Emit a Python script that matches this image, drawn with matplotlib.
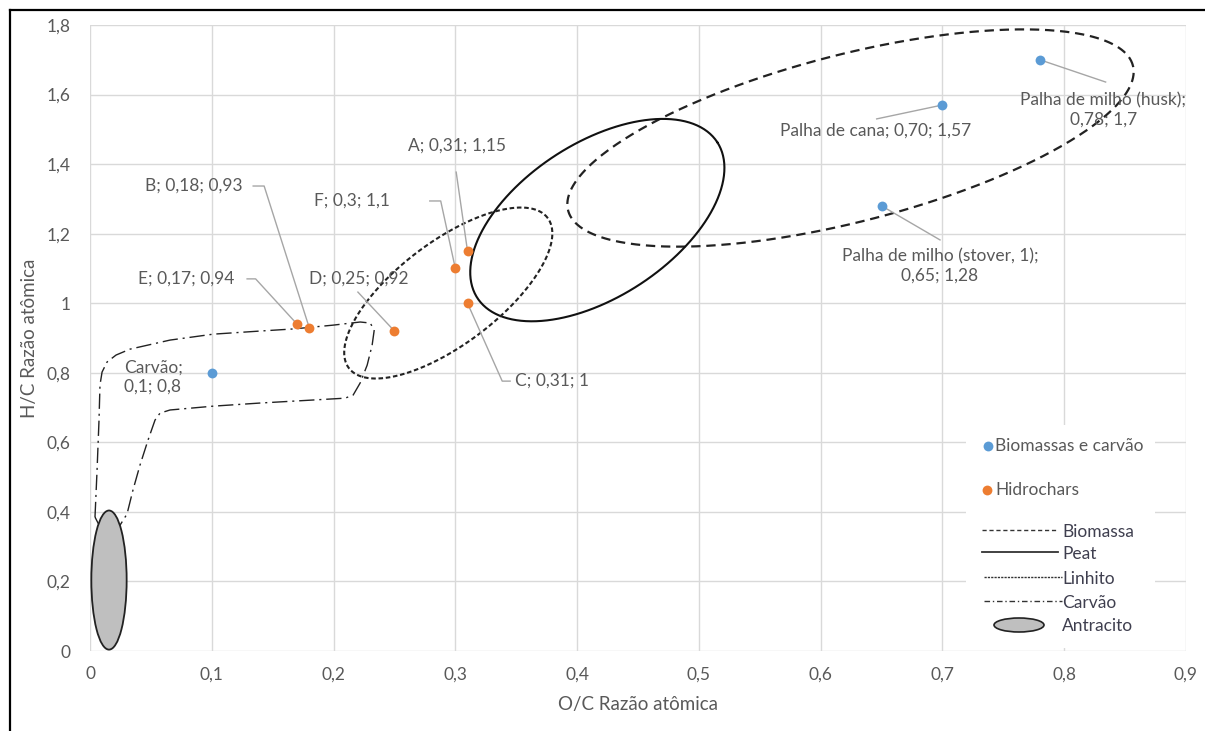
import numpy as np
import matplotlib
matplotlib.use("Agg")
import matplotlib.pyplot as plt
from matplotlib.lines import Line2D
from matplotlib.patches import Ellipse, Rectangle

plt.rcParams['font.family'] = ['Lato', 'DejaVu Sans']

# ---------------- data ----------------
bio_names = ["Palha de milho (husk)", "Palha de cana", "Palha de milho (stover, 1)", "Carvão"]
bio_x = [0.78, 0.70, 0.65, 0.10]
bio_y = [1.70, 1.57, 1.28, 0.80]
bio_labels = ["Palha de milho (husk);\n0,78; 1,7", "Palha de cana; 0,70; 1,57",
              "Palha de milho (stover, 1);\n0,65; 1,28", "Carvão;\n0,1; 0,8"]

hyd_names = ["A", "B", "C", "D", "E", "F"]
hyd_x = [0.31, 0.18, 0.31, 0.25, 0.17, 0.30]
hyd_y = [1.15, 0.93, 1.00, 0.92, 0.94, 1.10]
hyd_labels = ["A; 0,31; 1,15", "B; 0,18; 0,93", "C; 0,31; 1", "D; 0,25; 0,92",
              "E; 0,17; 0,94", "F; 0,3; 1,1"]

x_ticks = [0, 0.1, 0.2, 0.3, 0.4, 0.5, 0.6, 0.7, 0.8, 0.9]
x_ticklabels = ["0", "0,1", "0,2", "0,3", "0,4", "0,5", "0,6", "0,7", "0,8", "0,9"]
y_ticks = [0, 0.2, 0.4, 0.6, 0.8, 1.0, 1.2, 1.4, 1.6, 1.8]
y_ticklabels = ["0", "0,2", "0,4", "0,6", "0,8", "1", "1,2", "1,4", "1,6", "1,8"]

# Regions (ellipse: centre + two conjugate semi-axis vectors, data units)
biomassa_c = (0.6245, 1.475); biomassa_u = (0.2319, 0.2083); biomassa_v = (-0.0171, 0.2328)
peat_c = (0.4166, 1.239);     peat_u = (0.0985, 0.224);      peat_v = (-0.0345, 0.1857)
linhito_c = (0.2942, 1.0293); linhito_u = (0.0816, 0.216);   linhito_v = (-0.0254, 0.1174)
antracito_c = (0.0156, 0.204); antracito_w = 0.029; antracito_h = 0.40

carvao_x = [0.0041, 0.0058, 0.0074, 0.0082, 0.0099, 0.0140, 0.0214, 0.0329, 0.0657, 0.1011,
            0.1397, 0.1668, 0.1997, 0.2219, 0.2301, 0.2334, 0.2317, 0.2276, 0.2219, 0.2161,
            0.2095, 0.1997, 0.1397, 0.1011, 0.0657, 0.0575, 0.0534, 0.0477, 0.0411, 0.0353,
            0.0304, 0.0247, 0.0164, 0.0082, 0.0041]
carvao_y = [0.385, 0.520, 0.664, 0.765, 0.802, 0.831, 0.851, 0.868, 0.894, 0.911,
            0.920, 0.926, 0.937, 0.946, 0.943, 0.923, 0.880, 0.822, 0.771, 0.736,
            0.727, 0.725, 0.713, 0.704, 0.693, 0.684, 0.664, 0.607, 0.535, 0.463,
            0.394, 0.362, 0.348, 0.357, 0.385]

# ---------------- figure ----------------
W, H = 1205, 731
fig = plt.figure(figsize=(W / 100, H / 100), dpi=100)
ax = fig.add_axes([90 / W, 1 - 651 / H, (1186 - 90) / W, (651 - 25) / H])
ax.set_xlim(0, 0.9)
ax.set_ylim(0, 1.8)

grid_c = "#d9d9d9"
txt_c = "#595959"
FS = 12.5
for xv in x_ticks:
    ax.axvline(xv, color=grid_c, lw=1.0, zorder=0)
for yv in y_ticks:
    ax.axhline(yv, color=grid_c, lw=1.0, zorder=0)
for s in ax.spines.values():
    s.set_visible(False)
ax.set_xticks(x_ticks)
ax.set_xticklabels(x_ticklabels)
ax.set_yticks(y_ticks)
ax.set_yticklabels(y_ticklabels)
ax.tick_params(length=0, labelsize=FS, labelcolor=txt_c)
ax.tick_params(axis='x', pad=11)
ax.tick_params(axis='y', pad=14)
ax.set_xlabel("O/C Razão atômica", fontsize=13.5, color=txt_c, labelpad=10)
ax.set_ylabel("H/C Razão atômica", fontsize=13.5, color=txt_c, labelpad=6)

t = np.linspace(0, 2 * np.pi, 400)


def ell(c, u, v):
    return (c[0] + u[0] * np.cos(t) + v[0] * np.sin(t),
            c[1] + u[1] * np.cos(t) + v[1] * np.sin(t))


bx, by = ell(biomassa_c, biomassa_u, biomassa_v)
ax.plot(bx, by, color="#222222", lw=1.6, ls=(0, (4.2, 2.6)), zorder=2)
px_, py_ = ell(peat_c, peat_u, peat_v)
ax.plot(px_, py_, color="#111111", lw=1.5, ls="-", zorder=2)
lx, ly = ell(linhito_c, linhito_u, linhito_v)
ax.plot(lx, ly, color="#222222", lw=1.5, ls=(0, (2.2, 1.3)), zorder=2)
ax.plot(carvao_x, carvao_y, color="#222222", lw=1.0, ls=(0, (11, 3.5, 1.5, 3.5)), zorder=2)
ax.add_patch(Ellipse(antracito_c, antracito_w, antracito_h, facecolor="#bfbfbf",
                     edgecolor="#222222", lw=1.3, zorder=2))

# leader paths: from the point outward (bend points, then end at the label)
lead_c = "#a6a6a6"
leaders = {
    "Palha de milho (husk)": [(0.834, 1.636)],
    "Palha de cana": [(0.646, 1.530)],
    "Palha de milho (stover, 1)": [(0.698, 1.182)],
    "A": [(0.3007, 1.377)],
    "B": [(0.143, 1.337), (0.134, 1.337)],
    "F": [(0.288, 1.294), (0.279, 1.294)],
    "E": [(0.136, 1.070), (0.129, 1.070)],
    "D": [(0.220, 1.032)],
    "C": [(0.3385, 0.776), (0.345, 0.776)],
}
label_pos = {
    "Palha de milho (husk)": (0.832, 1.556, "center"),
    "Palha de cana": (0.645, 1.495, "center"),
    "Palha de milho (stover, 1)": (0.698, 1.107, "center"),
    "Carvão": (0.028, 0.788, "left"),
    "A": (0.301, 1.452, "center"),
    "B": (0.0855, 1.337, "center"),
    "C": (0.349, 0.776, "left"),
    "D": (0.221, 1.070, "center"),
    "E": (0.079, 1.070, "center"),
    "F": (0.215, 1.294, "center"),
}

for names, xs, ys, labs in [(bio_names, bio_x, bio_y, bio_labels),
                            (hyd_names, hyd_x, hyd_y, hyd_labels)]:
    for n, xv, yv, lab in zip(names, xs, ys, labs):
        if n in leaders:
            pts = [(xv, yv)] + leaders[n]
            ax.plot([p[0] for p in pts], [p[1] for p in pts], color=lead_c, lw=1.0, zorder=3)
        tx, ty, ha = label_pos[n]
        ax.text(tx, ty, lab, ha=ha, va="center", fontsize=FS, color=txt_c,
                linespacing=1.2, zorder=5)

ax.scatter(bio_x, bio_y, s=50, color="#5b9bd5", zorder=6, linewidths=0)
ax.scatter(hyd_x, hyd_y, s=50, color="#ed7d31", zorder=6, linewidths=0)

# ---------------- legend (manual) ----------------
def fx(px):
    return (px - 90) / 1096


def fy(py):
    return (651 - py) / 626


T = ax.transAxes
ax.add_patch(Rectangle((fx(966), fy(648)), fx(1155) - fx(966), fy(425) - fy(648),
                       transform=T, facecolor="white", edgecolor="none", zorder=7))
ax.scatter([fx(988)], [fy(446)], s=50, color="#5b9bd5", transform=T, zorder=8, linewidths=0)
ax.text(fx(995), fy(446), "Biomassas e carvão", transform=T, fontsize=FS, color=txt_c,
        va="center", ha="left", zorder=8)
ax.scatter([fx(987)], [fy(490)], s=50, color="#ed7d31", transform=T, zorder=8, linewidths=0)
ax.text(fx(995), fy(490), "Hidrochars", transform=T, fontsize=FS, color=txt_c,
        va="center", ha="left", zorder=8)
leg_c = "#3f3f4f"
leg_items = [("Biomassa", 530, 982, 1058, (0, (3.0, 2.0)), 1.0),
             ("Peat", 552, 982, 1058, "-", 1.3),
             ("Linhito", 577, 984, 1062, (0, (1.6, 0.8)), 1.0),
             ("Carvão", 601, 984, 1062, (0, (4, 2, 1, 2)), 1.0)]
for lab, yy, x0, x1, ls, lw in leg_items:
    ax.add_line(Line2D([fx(x0), fx(x1)], [fy(yy), fy(yy)], transform=T, color="#333333",
                       lw=lw, ls=ls, zorder=8))
    ax.text(fx(1062), fy(yy + 2), lab, transform=T, fontsize=FS, color=leg_c,
            va="center", ha="left", zorder=8)
ax.add_patch(Ellipse((fx(1019), fy(625)), 50 / 1096, 14 / 626, transform=T,
                     facecolor="#bfbfbf", edgecolor="#222222", lw=1.2, zorder=8))
ax.text(fx(1062), fy(626), "Antracito", transform=T, fontsize=FS, color=leg_c,
        va="center", ha="left", zorder=8)

# outer frame (top and left)
fig.add_artist(Line2D([10 / W, 1.0], [1 - 10 / H, 1 - 10 / H], color="black", lw=1.6,
                      transform=fig.transFigure))
fig.add_artist(Line2D([10 / W, 10 / W], [0, 1 - 10 / H], color="black", lw=1.6,
                      transform=fig.transFigure))

fig.savefig("out.png", dpi=100)
